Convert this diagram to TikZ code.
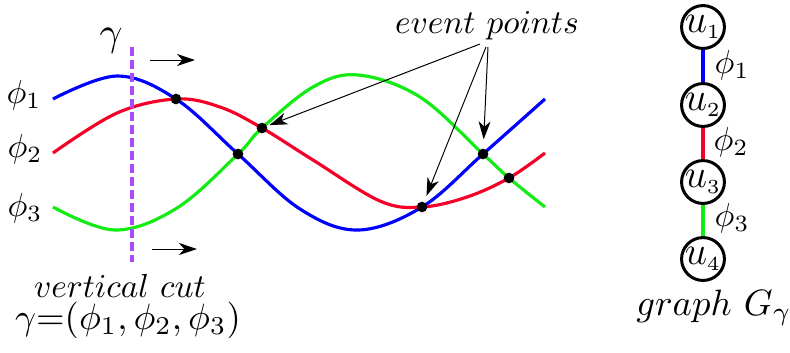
\documentclass[tikz,border=0pt]{standalone}
\usetikzlibrary{arrows.meta}
\definecolor{cblue}{RGB}{0,0,255}
\definecolor{cred}{RGB}{245,0,40}
\definecolor{cgreen}{RGB}{20,235,20}
\definecolor{cpurple}{RGB}{170,75,250}
\begin{document}
\begin{tikzpicture}[x=0.3pt,y=-0.3pt,
  curve/.style={line width=0.95pt},
  evdot/.style={circle,fill=black,inner sep=0pt,minimum size=3.2pt},
  ptr/.style={line width=0.3pt,-{Stealth[length=5.4pt,width=3.6pt,inset=1.6pt]}},
  vtx/.style={circle,draw,line width=0.9pt,inner sep=0pt,minimum size=11.4pt,font=\large},
  edge/.style={line width=1.05pt},
  lbl/.style={inner sep=0pt}]
\useasboundingbox (0,0) rectangle (790,352);
% curves
\draw[curve,cblue] plot[smooth,tension=0.6] coordinates {(53,99) (117,76) (176,99) (238,154) (300,209) (358,230) (422,207) (483,154) (545,99)};
\draw[curve,cred] plot[smooth,tension=0.6] coordinates {(53,153) (117,113) (176,99) (220,107) (262,128) (313,160) (380,201) (422,207) (467,197) (509,178) (545,153)};
\draw[curve,cgreen] plot[smooth,tension=0.6] coordinates {(53,207) (115,230) (177,208) (238,154) (262,128) (313,87) (358,75) (420,97) (483,154) (509,178) (545,207)};
% event points
\node[evdot] (e1) at (176,99) {};
\node[evdot] (e2) at (238,154) {};
\node[evdot] (e3) at (262,128) {};
\node[evdot] (e4) at (422,207) {};
\node[evdot] (e5) at (483,154) {};
\node[evdot] (e6) at (509,178) {};
% vertical cut
\coordinate (cutTop) at (132,47);
\coordinate (cutBot) at (132,262);
\draw[cpurple,line width=1.2pt,dash pattern=on 2.8pt off 1.1pt] (cutTop) -- (cutBot);
\coordinate (mtA) at (150,60);
\coordinate (mtB) at (195,60);
\coordinate (mbA) at (152,249);
\coordinate (mbB) at (197,249);
\draw[ptr] (mtA) -- (mtB);
\draw[ptr] (mbA) -- (mbB);
% labels
\node[lbl,anchor=base,scale=1.2] (gam) at (111,45) {$\gamma$};
\node[lbl,anchor=east] (p1) at (42,95) {$\phi_1$};
\node[lbl,anchor=east] (p2) at (43,149) {$\phi_2$};
\node[lbl,anchor=east] (p3) at (43,208) {$\phi_3$};
\node[lbl,anchor=base] (vc) at (120,297) {$vertical\ cut$};
\node[lbl,anchor=base,scale=1.1] (vg) at (128,329) {$\gamma{=}(\phi_1,\phi_2,\phi_3)$};
% event points label
\node[lbl,anchor=base] (ev) at (487,33) {$event\ points$};
\coordinate (a1) at (480,44);
\coordinate (a2) at (486,47);
\coordinate (a3) at (488,47);
\draw[ptr,shorten >=0.6pt] (a1) -- (e3);
\draw[ptr,shorten >=1.8pt] (a2) -- (e4);
\draw[ptr,shorten >=2.6pt] (a3) -- (e5);
% graph
\node[vtx] (u1) at (703,27) {$u_{\scriptscriptstyle 1}$};
\node[vtx] (u2) at (703,105) {$u_{\scriptscriptstyle 2}$};
\node[vtx] (u3) at (703,182) {$u_{\scriptscriptstyle 3}$};
\node[vtx] (u4) at (703,259) {$u_{\scriptscriptstyle 4}$};
\draw[edge,cblue] (u1) -- (u2);
\draw[edge,cred] (u2) -- (u3);
\draw[edge,cgreen] (u3) -- (u4);
\node[lbl,anchor=west] (g1) at (714,65) {$\phi_1$};
\node[lbl,anchor=west] (g2) at (713,142) {$\phi_2$};
\node[lbl,anchor=west] (g3) at (714,218) {$\phi_3$};
\node[lbl,anchor=base,scale=1.1] (gg) at (714,315) {$graph\ G_\gamma$};
\end{tikzpicture}
\end{document}
